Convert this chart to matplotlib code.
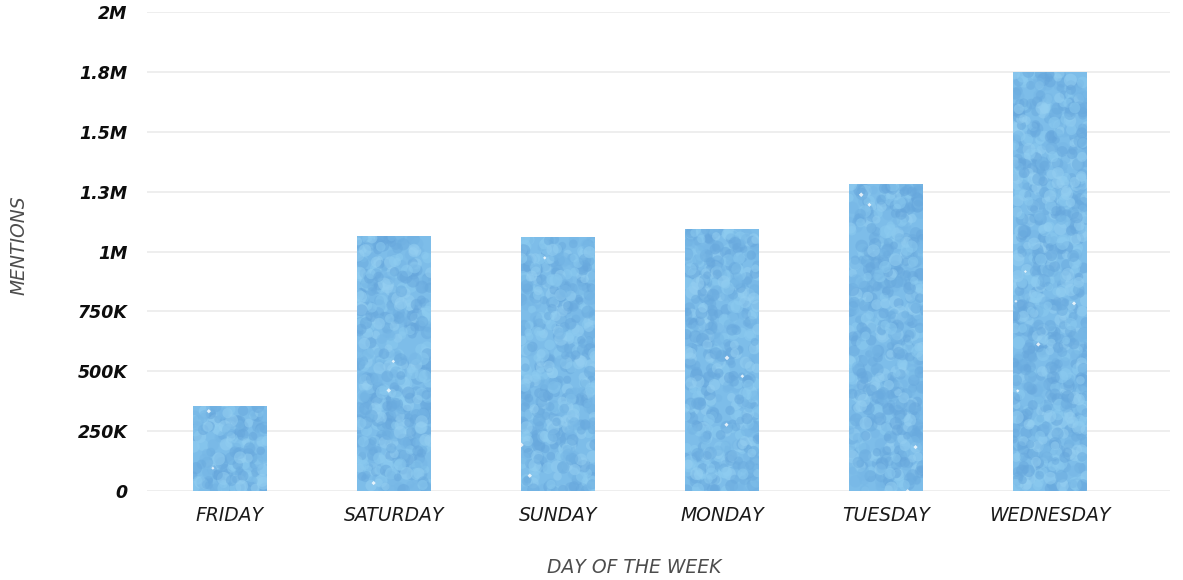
import numpy as np
import matplotlib.pyplot as plt
from matplotlib.ticker import FixedLocator, FixedFormatter

days = ['FRIDAY', 'SATURDAY', 'SUNDAY', 'MONDAY', 'TUESDAY', 'WEDNESDAY']
mentions = [355000, 1067000, 1062000, 1096000, 1283000, 1751000]
tick_values = [0, 250000, 500000, 750000, 1000000, 1250000, 1500000, 1750000, 2000000]
tick_labels = ['0', '250K', '500K', '750K', '1M', '1.3M', '1.5M', '1.8M', '2M']

fig = plt.figure(figsize=(11.83, 5.8), dpi=100)
ax = fig.add_axes([0.1243, 0.1534, 0.8647, 0.8256])

x = np.arange(len(days))
bars = ax.bar(x, mentions, width=0.45, color='#7dbde9', zorder=2)

# stippled fill: small overlapping dots clipped to each bar
rng = np.random.default_rng(7)
dot_colors = ['#6aabdf', '#8ccbf0', '#76b7e6', '#95cff1', '#66a6dc']
for b in bars:
    x0, w, h = b.get_x(), b.get_width(), b.get_height()
    n = int(h / 2000)
    px = x0 + rng.random(n) * w
    py = rng.random(n) * h
    cols = [dot_colors[i] for i in rng.integers(0, len(dot_colors), n)]
    sc = ax.scatter(px, py, s=rng.uniform(30, 90, n), c=cols, alpha=0.5,
                    linewidths=0, zorder=3)
    sc.set_clip_path(b)
    # a few white specks
    m = max(2, n // 150)
    wx = x0 + rng.random(m) * w
    wy = rng.random(m) * h
    ws = ax.scatter(wx, wy, s=rng.uniform(2, 6, m), c='white', marker='D',
                    linewidths=0, alpha=0.8, zorder=4)
    ws.set_clip_path(b)

ax.set_xlim(-0.506, 5.73)
ax.set_ylim(0, 2000000)
ax.yaxis.set_major_locator(FixedLocator(tick_values))
ax.yaxis.set_major_formatter(FixedFormatter(tick_labels))
ax.set_xticks(x)
ax.set_xticklabels(days)

ax.grid(axis='y', color='#ebebeb', linewidth=1.2, zorder=0)
ax.set_axisbelow(True)
for s in ax.spines.values():
    s.set_visible(False)
ax.tick_params(axis='both', length=0)
ax.tick_params(axis='y', pad=14)
ax.tick_params(axis='x', pad=11)

for lbl in ax.get_yticklabels():
    lbl.set_fontfamily('DejaVu Sans')
    lbl.set_fontweight('heavy')
    lbl.set_fontstyle('oblique')
    lbl.set_fontsize(12.5)
    lbl.set_color('#0d0d0d')
for lbl in ax.get_xticklabels():
    lbl.set_fontfamily('DejaVu Sans')
    lbl.set_fontstyle('oblique')
    lbl.set_fontsize(13.5)
    lbl.set_color('#1a1a1a')

fig.text(0.536, 0.021, 'DAY OF THE WEEK', ha='center', va='center',
         fontfamily='DejaVu Sans', fontweight='light',
         fontstyle='oblique', fontsize=13.5, color='#4d4d4d')
fig.text(0.016, 0.578, 'MENTIONS', ha='center', va='center', rotation=90,
         fontfamily='DejaVu Sans', fontweight='light',
         fontstyle='oblique', fontsize=13.5, color='#4d4d4d')

fig.savefig('out.png', dpi=100, facecolor='white')
